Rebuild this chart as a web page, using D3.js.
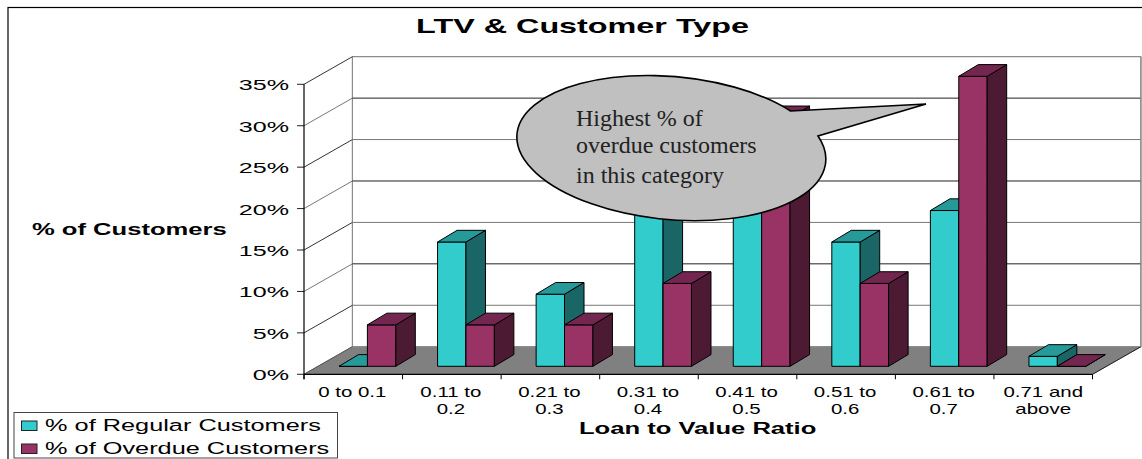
<!DOCTYPE html>
<html><head><meta charset="utf-8">
<script src="https://cdn.jsdelivr.net/npm/d3@7"></script>
<style>html,body{margin:0;padding:0;background:#fff}svg{display:block}text{font-family:"Liberation Sans",Arial,sans-serif;fill:#000}</style>
</head><body><svg id="c" width="1142" height="459"></svg>
<script>
const categories=[["0 to 0.1"],["0.11 to","0.2"],["0.21 to","0.3"],["0.31 to","0.4"],["0.41 to","0.5"],["0.51 to","0.6"],["0.61 to","0.7"],["0.71 and","above"]];
const regularValues=[0,15,8.7,20,20,15,18.8,1.2];
const overdueValues=[5,5,5,10,30,10,35,0];
const yTicks=[0,5,10,15,20,25,30,35];
const seriesNames=["% of Regular Customers","% of Overdue Customers"];
const calloutLines=["Highest % of","overdue customers","in this category"];

const svg=d3.select("#c");
const X0=304,X1=1092.5,Y0=374.3,Y35=84.3,DX=48.4,DY=-27.6;
const y=d3.scaleLinear().domain([0,35]).range([Y0,Y35]);
const band=d3.scaleBand().domain(d3.range(8)).range([X0,X1]);
function txt(x,yy,s,size,o={}){
  return svg.append("text").attr("transform",`translate(${x},${yy}) scale(${o.sx},1)`)
   .attr("font-size",size).attr("font-weight",o.bold?"bold":null).attr("text-anchor",o.anchor||"start").attr("fill","#000").text(s);
}
const line=(a,b,c,w=1)=>svg.append("line").attr("x1",a[0]).attr("y1",a[1]).attr("x2",b[0]).attr("y2",b[1]).attr("stroke",c).attr("stroke-width",w);
const poly=(pts,f,s="#000",w=1)=>svg.append("polygon").attr("points",pts.map(p=>p.join(",")).join(" ")).attr("fill",f).attr("stroke",s).attr("stroke-width",w).attr("stroke-linejoin","round");

// frame
svg.append("rect").attr("x",8).attr("y",7.5).attr("width",1140).attr("height",460).attr("fill","#fff").attr("stroke","#000").attr("stroke-width",1.2);
// title
txt(582.5,33,"LTV & Customer Type",21,{bold:true,anchor:"middle",sx:1.54});
// floor + walls
poly([[X0,Y0],[X0+DX,Y0+DY],[X1+DX,Y0+DY],[X1,Y0]],"#808080","#808080");
poly([[X0+DX,Y35+DY],[X1+DX,Y35+DY],[X1+DX,Y0+DY],[X0+DX,Y0+DY]],"#fff","#8c8c8c",1.2);
yTicks.forEach((t,i)=>{
  const yy=y(t);
  if(t>0){
    line([X0,yy],[X0+DX,yy+DY],i%2?"#333":"#777");
    if(t<35) line([X0+DX,yy+DY],[X1+DX,yy+DY],i%2?"#777":"#222");
  }
  line([X0-7,yy],[X0,yy],"#222");
  txt(289,yy+6,t+"%",15.5,{anchor:"end",sx:1.62});
});
line([X0,Y0],[X0+DX,Y0+DY],"#555");
line([X1,Y0],[X1+DX,Y0+DY],"#222");
line([X1+DX,Y35+DY],[X1+DX,Y0+DY],"#8c8c8c",1.2);
// axes
line([X0,Y35],[X0,Y0+5],"#000",1.2);
line([X0,Y0],[X1,Y0],"#000",1.2);
d3.range(9).forEach(i=>{const x=X0+band.step()*i;line([x,Y0],[x,Y0+5],"#000");});
// bars
const GAP=21,OFFX=14,OFFY=-8,DEPX=19.5,DEPY=-11.7,BW=28.4;
function bar(i,k,v,fr,top,side){
  const xl=band(i)+OFFX+GAP+k*BW, xr=xl+BW, yb=y(0)+OFFY, yt=y(v)+OFFY;
  poly([[xl,yb],[xr,yb],[xr,yt],[xl,yt]],fr);
  poly([[xr,yb],[xr+DEPX,yb+DEPY],[xr+DEPX,yt+DEPY],[xr,yt]],side);
  poly([[xl,yt],[xr,yt],[xr+DEPX,yt+DEPY],[xl+DEPX,yt+DEPY]],top);
}
categories.forEach((c,i)=>{
  bar(i,0,regularValues[i],"#33cccc","#269999","#1a6666");
  bar(i,1,overdueValues[i],"#993366","#732650","#4d1a33");
  c.forEach((s,j)=>txt(band(i)+band.bandwidth()/2-(i==7?0:1),397+j*16.5,s,14.5,{anchor:"middle",sx:1.41}));
});
// axis titles
txt(32,235,"% of Customers",16,{bold:true,sx:1.6});
txt(579,434,"Loan to Value Ratio",16,{bold:true,sx:1.6});
// legend
svg.append("rect").attr("x",14).attr("y",412.5).attr("width",323.5).attr("height",45.5).attr("fill","#fff").attr("stroke","#444").attr("stroke-width",1);
[["#33cccc",421],["#993366",444]].forEach((d,i)=>{
  svg.append("rect").attr("x",21.5).attr("y",d[1]).attr("width",15.5).attr("height",9.5).attr("fill",d[0]).attr("stroke","#222");
  txt(45,431+i*23,seriesNames[i],17,{sx:1.49});
});
// callout
svg.append("path").attr("d","M790.6 111 A155 71.5 5.2 1 0 818 136 L926 104 Z").attr("fill","#c0c0c0").attr("stroke","#000").attr("stroke-width",1.6).attr("stroke-linejoin","miter");
calloutLines.forEach((s,i)=>svg.append("text").attr("x",576).attr("y",[126,153,183][i]).attr("font-size",24).style("font-family","'Liberation Serif',serif").style("fill","#222").text(s));
</script></body></html>
